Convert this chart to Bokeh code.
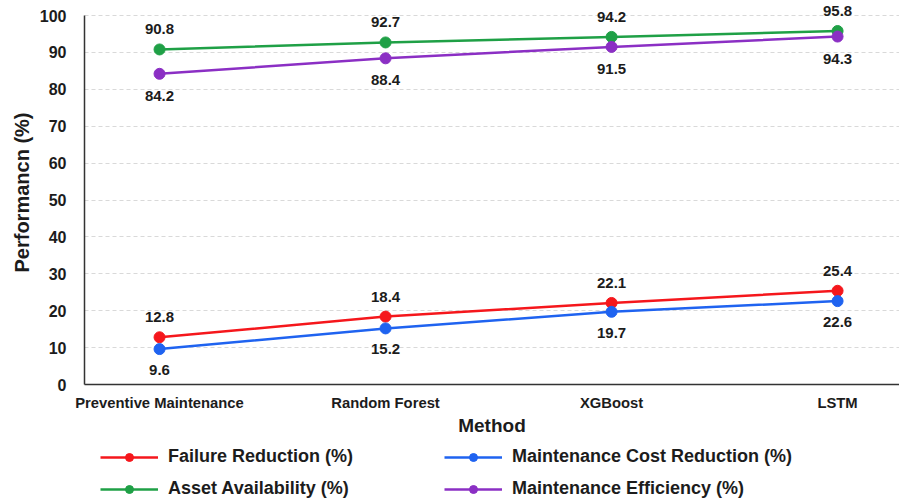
from bokeh.plotting import figure
from bokeh.layouts import column
from bokeh.models import (ColumnDataSource, Legend, LegendItem, FixedTicker)
from bokeh.core.properties import value
from bokeh.embed import file_html
from bokeh.resources import INLINE

methods = ["Preventive Maintenance", "Random Forest", "XGBoost", "LSTM"]
failure_reduction = [12.8, 18.4, 22.1, 25.4]
cost_reduction = [9.6, 15.2, 19.7, 22.6]
asset_availability = [90.8, 92.7, 94.2, 95.8]
maintenance_efficiency = [84.2, 88.4, 91.5, 94.3]
y_ticks = [0, 10, 20, 30, 40, 50, 60, 70, 80, 90, 100]

series = [
    ("Failure Reduction (%)", failure_reduction, "#f5171c", -20),
    ("Maintenance Cost Reduction (%)", cost_reduction, "#1f63f0", 21),
    ("Asset Availability (%)", asset_availability, "#1fa046", -20),
    ("Maintenance Efficiency (%)", maintenance_efficiency, "#8b2fc4", 22),
]

FONT = "Liberation Sans"
TEXT = "#1c1c1c"

xs = list(range(len(methods)))

# the frame reaches the top edge so that labels above 100 stay visible;
# the axis line itself stops at 100
p = figure(width=899, height=440, x_range=(-0.332, 3.274),
           y_range=(0, 104.07),
           output_backend="svg", toolbar_location=None,
           min_border_left=84, min_border_right=0, min_border_top=0,
           min_border_bottom=56)
p.outline_line_color = None
p.background_fill_color = "white"
p.border_fill_color = "white"

# axes
p.xaxis.ticker = FixedTicker(ticks=xs)
p.xaxis.major_label_overrides = {i: m for i, m in enumerate(methods)}
p.yaxis.ticker = FixedTicker(ticks=y_ticks)
p.yaxis.bounds = (0, 100)
for ax in (p.xaxis[0], p.yaxis[0]):
    ax.axis_line_color = "#333333"
    ax.axis_line_width = 1.5
    ax.major_tick_line_color = None
    ax.minor_tick_line_color = None
    ax.major_label_text_font = FONT
    ax.major_label_text_font_style = "bold"
    ax.major_label_text_color = TEXT
    ax.axis_label_text_font = FONT
    ax.axis_label_text_font_style = "bold"
    ax.axis_label_text_color = TEXT
p.xaxis.major_label_text_font_size = "14.8px"
p.yaxis.major_label_text_font_size = "16px"
p.xaxis.major_label_standoff = 4
p.yaxis.major_label_standoff = 12
p.xaxis.axis_label = "Method"
p.yaxis.axis_label = "Performancn (%)"
p.xaxis.axis_label_text_font_size = "19px"
p.yaxis.axis_label_text_font_size = "20px"
p.xaxis.axis_label_standoff = 1
p.yaxis.axis_label_standoff = 4

p.xgrid.grid_line_color = None
p.ygrid.grid_line_color = "#d9d9d9"
p.ygrid.grid_line_dash = "4 3"
p.ygrid.grid_line_width = 1

# legend strip below the chart; its y range keeps the series out of view
lg = figure(width=899, height=62, x_range=(-0.332, 3.274), y_range=(-2, -1),
            x_axis_type=None, y_axis_type=None,
            output_backend="svg", toolbar_location=None,
            min_border_left=84, min_border_right=0, min_border_top=0,
            min_border_bottom=0)
lg.outline_line_color = None
lg.xgrid.grid_line_color = None
lg.ygrid.grid_line_color = None

items = []
for name, vals, color, off in series:
    src = ColumnDataSource(dict(x=xs, y=vals, lab=[f"{v:.1f}" for v in vals]))
    p.line("x", "y", source=src, line_color=color, line_width=2.5)
    p.scatter("x", "y", source=src, size=11, fill_color=color,
              line_color=color)
    p.text("x", "y", text="lab", source=src, y_offset=off,
           text_align="center", text_baseline="middle",
           text_font=value(FONT), text_font_style="bold",
           text_font_size="15px", text_color=TEXT)
    ln = lg.line("x", "y", source=src, line_color=color, line_width=2.5)
    sc = lg.scatter("x", "y", source=src, size=11, fill_color=color,
                    line_color=color)
    items.append(LegendItem(label=name, renderers=[ln, sc]))

legend = Legend(items=items, orientation="horizontal", ncols=2,
                location=(16, 3), border_line_color=None,
                background_fill_alpha=0, padding=0, margin=0,
                glyph_width=58, glyph_height=20, label_standoff=10,
                label_width=265, spacing=11,
                label_text_font=FONT, label_text_font_style="bold",
                label_text_font_size="18px", label_text_color=TEXT)
lg.add_layout(legend, "center")

open("out.html", "w").write(file_html(column(p, lg, spacing=0), INLINE))
